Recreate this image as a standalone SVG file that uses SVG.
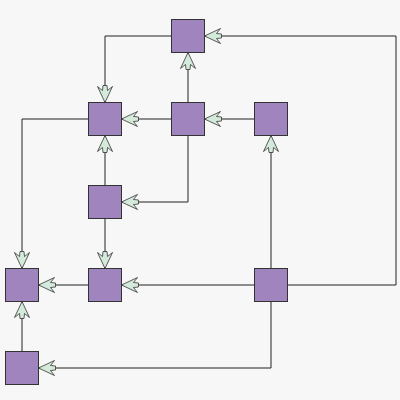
<svg xmlns="http://www.w3.org/2000/svg" width="400" height="400" viewBox="0 0 400 400">
<style>
.n{fill:#9f84bd;stroke:#333;stroke-width:1}
.e{fill:none;stroke:#222;stroke-width:1;marker-end:url(#ah)}
</style>
<defs>
<marker id="ah" markerUnits="userSpaceOnUse" viewBox="-18 -9 19 18" refX="0" refY="0" markerWidth="19" markerHeight="18" orient="auto" overflow="visible">
<path d="M0,0 L-16,-7.5 L-12,-2.5 L-17,-2 L-17,2 L-12,2.5 L-16,7.5 Z" fill="#d4eadb" stroke="#333" stroke-width="0.8" stroke-linejoin="miter"/>
</marker>
</defs>
<rect width="400" height="400" fill="#f7f7f7"/>
<g id="connectors">
<path class="e" d="M171.5,36 H105 V102.5"/>
<path class="e" d="M188,102.5 V52.5"/>
<path class="e" d="M171.5,119 H121.5"/>
<path class="e" d="M254.5,119 H204.5"/>
<path class="e" d="M188,135.5 V202 H121.5"/>
<path class="e" d="M105,185.5 V135.5"/>
<path class="e" d="M105,218.5 V268.5"/>
<path class="e" d="M88.5,119 H22 V268.5"/>
<path class="e" d="M88.5,285 H38.5"/>
<path class="e" d="M254.5,285 H121.5"/>
<path class="e" d="M271,268.5 V135.5"/>
<path class="e" d="M287.5,285 H396 V36 H204.5"/>
<path class="e" d="M271,301.5 V368 H38.5"/>
<path class="e" d="M22,351.5 V301.5"/>
</g>
<g id="A"><rect class="n" x="171.5" y="19.5" width="33" height="33"/></g>
<g id="B"><rect class="n" x="88.5" y="102.5" width="33" height="33"/></g>
<g id="C"><rect class="n" x="171.5" y="102.5" width="33" height="33"/></g>
<g id="D"><rect class="n" x="254.5" y="102.5" width="33" height="33"/></g>
<g id="E"><rect class="n" x="88.5" y="185.5" width="33" height="33"/></g>
<g id="F"><rect class="n" x="5.5" y="268.5" width="33" height="33"/></g>
<g id="G"><rect class="n" x="88.5" y="268.5" width="33" height="33"/></g>
<g id="H"><rect class="n" x="254.5" y="268.5" width="33" height="33"/></g>
<g id="I"><rect class="n" x="5.5" y="351.5" width="33" height="33"/></g>
</svg>
